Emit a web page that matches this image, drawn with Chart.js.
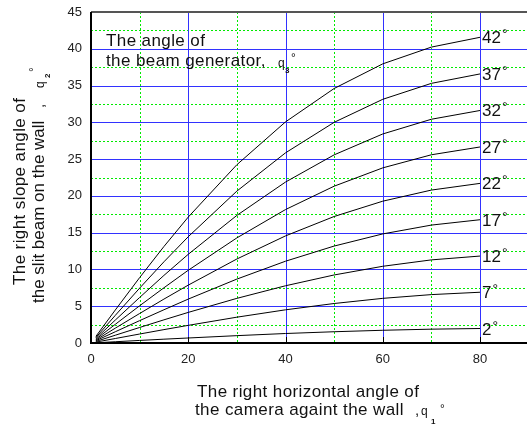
<!DOCTYPE html>
<html>
<head>
<meta charset="utf-8">
<script src="https://cdn.jsdelivr.net/npm/chart.js@4.4.1/dist/chart.umd.min.js"></script>
<style>
  html, body { margin: 0; padding: 0; background: #fff; }
  canvas { display: block; }
</style>
</head>
<body>
<canvas id="chart" width="527" height="427"></canvas>
<script>
// horizontal angle of the camera, q1 (deg)
const q1 = [1, 5, 10, 15, 20, 30, 40, 50, 60, 70, 80];
// beam generator angles, q3 (deg) - one curve each
const beamLabels = ['2', '7', '12', '17', '22', '27', '32', '37', '42'];
// slope angle on the wall, q2 (deg)
const q2_02 = [0.03, 0.17, 0.35, 0.52, 0.68, 1.00, 1.29, 1.53, 1.73, 1.88, 1.97];
const q2_07 = [0.12, 0.61, 1.22, 1.82, 2.40, 3.51, 4.51, 5.37, 6.07, 6.58, 6.90];
const q2_12 = [0.21, 1.06, 2.11, 3.15, 4.16, 6.07, 7.78, 9.25, 10.43, 11.30, 11.82];
const q2_17 = [0.31, 1.53, 3.04, 4.52, 5.97, 8.69, 11.12, 13.18, 14.83, 16.03, 16.76];
const q2_22 = [0.40, 2.02, 4.01, 5.97, 7.87, 11.42, 14.56, 17.20, 19.28, 20.79, 21.70];
const q2_27 = [0.51, 2.54, 5.06, 7.51, 9.89, 14.29, 18.14, 21.32, 23.81, 25.59, 26.65];
const q2_32 = [0.62, 3.12, 6.19, 9.19, 12.06, 17.35, 21.88, 25.58, 28.42, 30.42, 31.61];
const q2_37 = [0.75, 3.76, 7.46, 11.04, 14.45, 20.65, 25.85, 30.00, 33.13, 35.30, 36.58];
const q2_42 = [0.90, 4.49, 8.89, 13.12, 17.12, 24.24, 30.06, 34.60, 37.95, 40.23, 41.56];
const series = [q2_02, q2_07, q2_12, q2_17, q2_22, q2_27, q2_32, q2_37, q2_42];

// grid positions
const xMajor = [20, 40, 60, 80];
const xMinor = [10, 30, 50, 70];
const yMajor = [5, 10, 15, 20, 25, 30, 35, 40];
const yMinor = [2.5, 7.5, 12.5, 17.5, 22.5, 27.5, 32.5, 37.5, 42.5];

const FONT = '"Liberation Sans", Arial, sans-serif';
const BLUE = 'rgb(50,50,255)';
const GREEN = 'rgb(0,235,0)';
Chart.defaults.font.family = FONT;

const datasets = series.map((vals, i) => ({
  label: beamLabels[i],
  data: q1.map((x, j) => ({ x: x, y: vals[j] })),
  borderColor: '#000',
  borderWidth: 1,
  pointRadius: 0,
  tension: 0,
  fill: false
}));

function txt(ctx, s, x, y, size, extra) {
  ctx.font = (extra || '') + size + 'px ' + FONT;
  ctx.fillText(s, x, y);
  return ctx.measureText(s).width;
}

function rot(ctx, s, xb, ys, size, extra) {
  ctx.save();
  ctx.translate(xb, ys);
  ctx.rotate(-Math.PI / 2);
  ctx.font = (extra || '') + size + 'px ' + FONT;
  ctx.fillText(s, 0, 0);
  ctx.restore();
}

const decor = {
  id: 'decor',
  beforeDatasetsDraw(chart) {
    const { ctx, chartArea: a, scales: { x, y } } = chart;
    ctx.save();
    ctx.lineWidth = 1;
    ctx.strokeStyle = GREEN;
    ctx.setLineDash([2, 2]);
    ctx.beginPath();
    xMinor.forEach(v => { const p = Math.round(x.getPixelForValue(v)) + 0.5; ctx.moveTo(p, a.top); ctx.lineTo(p, a.bottom); });
    yMinor.forEach(v => { const p = Math.round(y.getPixelForValue(v)) + 0.5; ctx.moveTo(a.left, p); ctx.lineTo(a.right, p); });
    ctx.stroke();
    ctx.setLineDash([]);
    ctx.strokeStyle = BLUE;
    ctx.beginPath();
    xMajor.forEach(v => { const p = Math.round(x.getPixelForValue(v)) + 0.5; ctx.moveTo(p, a.top); ctx.lineTo(p, a.bottom); });
    yMajor.forEach(v => { const p = Math.round(y.getPixelForValue(v)) + 0.5; ctx.moveTo(a.left, p); ctx.lineTo(a.right, p); });
    ctx.stroke();
    ctx.restore();
  },
  afterDatasetsDraw(chart) {
    const { ctx, chartArea: a, scales: { x } } = chart;
    ctx.save();
    // frame
    ctx.strokeStyle = '#555';
    ctx.lineWidth = 2;
    ctx.beginPath(); ctx.moveTo(a.left, a.top); ctx.lineTo(a.right, a.top); ctx.stroke();
    ctx.strokeStyle = '#000';
    ctx.beginPath();
    ctx.moveTo(a.left, a.top); ctx.lineTo(a.left, a.bottom); ctx.lineTo(a.right, a.bottom);
    ctx.stroke();
    ctx.lineWidth = 1;
    ctx.beginPath();
    xMajor.forEach(v => { const p = Math.round(x.getPixelForValue(v)) + 0.5; ctx.moveTo(p, a.bottom); ctx.lineTo(p, a.bottom - 6); });
    ctx.stroke();

    ctx.fillStyle = '#111';
    ctx.textBaseline = 'alphabetic';
    ctx.textAlign = 'left';
    // curve end labels
    chart.data.datasets.forEach((ds, i) => {
      const meta = chart.getDatasetMeta(i);
      const el = meta.data[meta.data.length - 1];
      const w = txt(ctx, ds.label, el.x + 2, el.y + 6, 17);
      txt(ctx, '°', el.x + 3 + w, el.y + 2, 14);
    });

    try { ctx.letterSpacing = '0.4px'; } catch (e) {}
    // annotation
    txt(ctx, 'The angle of', 106, 46, 17);
    txt(ctx, 'the beam generator,', 106, 66, 17);
    ctx.letterSpacing = '0px';
    txt(ctx, 'q', 278, 67, 12);
    txt(ctx, '3', 285, 73, 8, 'bold ');
    txt(ctx, '°', 291, 62, 12);

    // x title
    ctx.letterSpacing = '0.4px';
    txt(ctx, 'The right horizontal angle of', 197, 397, 17);
    txt(ctx, 'the camera againt the wall', 195, 415, 17);
    ctx.letterSpacing = '0px';
    txt(ctx, ',', 415, 415, 15);
    txt(ctx, 'q', 421, 415, 12);
    txt(ctx, '1', 431, 424, 8, 'bold ');
    txt(ctx, '°', 440, 413, 12);

    // y title
    ctx.letterSpacing = '0.4px';
    rot(ctx, 'The right slope angle of', 25, 285, 17);
    ctx.letterSpacing = '0px';
    rot(ctx, 'the slit beam on the wall', 44, 303, 17);
    rot(ctx, ',', 44, 108, 15);
    rot(ctx, 'q', 44, 88, 12);
    rot(ctx, '2', 50, 78, 8, 'bold ');
    rot(ctx, '°', 38, 72, 12);
    ctx.restore();
  }
};

new Chart(document.getElementById('chart'), {
  type: 'line',
  data: { datasets: datasets },
  options: {
    responsive: false,
    animation: false,
    layout: { padding: { top: 12, left: 0, right: 0, bottom: 0 } },
    plugins: { legend: { display: false }, tooltip: { enabled: false } },
    scales: {
      x: {
        type: 'linear',
        min: 0,
        max: 89.66,
        grid: { display: false },
        border: { display: false },
        ticks: { stepSize: 20, includeBounds: false, padding: 1, color: '#222', font: { size: 13 }, maxRotation: 0 },
        afterFit(s) { s.height = 84; }
      },
      y: {
        min: 0,
        max: 45,
        grid: { display: false },
        border: { display: false },
        ticks: { stepSize: 5, padding: 1, color: '#222', font: { size: 13 } },
        afterFit(s) { s.width = 91; }
      }
    }
  },
  plugins: [decor]
});
</script>
</body>
</html>
